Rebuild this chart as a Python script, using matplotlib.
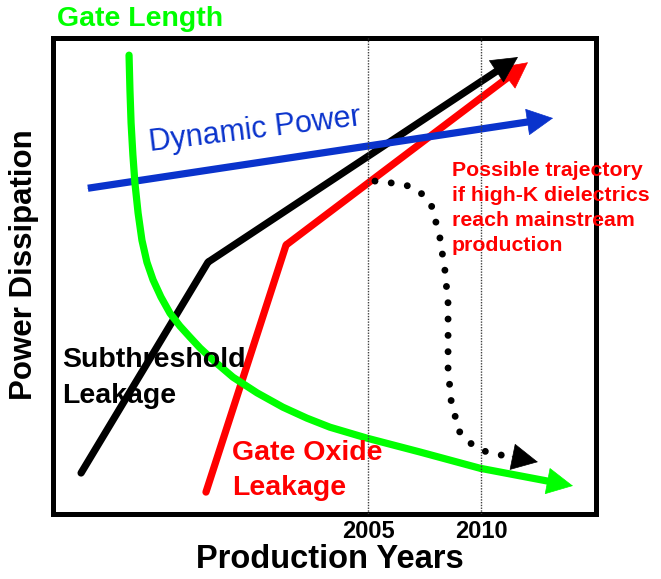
import matplotlib
matplotlib.use("Agg")
import matplotlib.pyplot as plt

# DANE: wykres pogladowy (lata produkcji vs moc), jednostki umowne 0-100
lata_znaczniki = [2005, 2010]
etykiety_lat = ["2005", "2010"]

# Subthreshold leakage (czarna)
sub_x = [1992.32, 1997.93, 2011.63]
sub_y = [8.7, 52.9, 95.9]

# Gate oxide leakage (czerwona)
ox_x = [1997.84, 2001.38, 2012.07]
ox_y = [4.7, 56.5, 94.8]

# Dynamic power (niebieska)
dyn_x = [1992.62, 2013.18]
dyn_y = [68.4, 83.1]

# Gate length (zielona)
gl_x = [1994.44, 1994.48, 1994.53, 1994.61, 1994.70, 1994.84, 1995.01, 1995.23,
        1995.50, 1995.85, 1996.25, 1996.69, 1997.13, 1997.58, 1998.24, 1999.03,
        2000.10, 2001.24, 2002.30, 2003.32, 2004.96, 2007.30, 2009.95, 2014.06]
gl_y = [96.3, 89.0, 82.1, 75.4, 69.5, 63.2, 57.5, 52.9,
        49.2, 45.6, 42.2, 39.5, 37.2, 34.9, 32.0, 28.8,
        25.5, 22.5, 20.2, 18.3, 16.0, 13.1, 9.7, 6.0]

# Mozliwa trajektoria (kropkowana)
tr_x = [2005.31, 2006.06, 2006.77, 2007.39, 2007.83, 2008.18, 2008.40, 2008.54,
        2008.54, 2008.67, 2009.02, 2009.51, 2010.13, 2010.84, 2011.37, 2012.51]
tr_y = [69.9, 69.5, 68.9, 67.2, 64.5, 58.0, 51.2, 44.3,
        30.7, 24.0, 17.5, 15.0, 13.3, 12.5, 12.1, 11.0]

ZIELONY = "#00ff00"
NIEBIESKI = "#0a33cc"
CZERWONY = "#ff0000"
LW = 5.2
GROT = "-|>,head_length=0.9,head_width=0.46"

fig = plt.figure(figsize=(6.61, 5.79), dpi=100)
ax = fig.add_axes([0.0809, 0.1114, 0.8215, 0.8238])
ax.set_xlim(1991.1, 2015.1)
ax.set_ylim(0, 100)

for s in ax.spines.values():
    s.set_linewidth(3.6)
    s.set_color("black")


def linia_ze_strzalka(xs, ys, kolor, z):
    # linia lamana do przedostatniego punktu
    ax.plot(xs[:-1], ys[:-1], color=kolor, lw=LW, zorder=z,
            solid_capstyle="round", solid_joinstyle="round")
    # gruby trzon ostatniego odcinka (skrocony pod grotem)
    ax.annotate("", xy=(xs[-1], ys[-1]), xytext=(xs[-2], ys[-2]),
                arrowprops=dict(arrowstyle="-", color=kolor, lw=LW,
                                shrinkA=0, shrinkB=12, capstyle="butt"),
                zorder=z)
    # grot
    ax.annotate("", xy=(xs[-1], ys[-1]), xytext=(xs[-2], ys[-2]),
                arrowprops=dict(arrowstyle=GROT, mutation_scale=20, color=kolor,
                                lw=0.5, shrinkA=0, shrinkB=0),
                zorder=z)


linia_ze_strzalka(ox_x, ox_y, CZERWONY, 2)
linia_ze_strzalka(sub_x, sub_y, "black", 3)
linia_ze_strzalka(dyn_x, dyn_y, NIEBIESKI, 4)
linia_ze_strzalka(gl_x, gl_y, ZIELONY, 5)

# trajektoria kropkowana
ax.plot(tr_x[:-1], tr_y[:-1], color="black", lw=5, linestyle=(0, (0.001, 2.35)),
        dash_capstyle="round", zorder=6)
ax.annotate("", xy=(tr_x[-1], tr_y[-1]), xytext=(tr_x[-2], tr_y[-2]),
            arrowprops=dict(arrowstyle=GROT, mutation_scale=20, color="black", lw=0.5,
                            shrinkA=0, shrinkB=0), zorder=6)

for rok in lata_znaczniki:
    ax.axvline(rok, color="0.25", lw=1.0, linestyle=(0, (1, 1)), zorder=7)

ax.set_xticks(lata_znaczniki)
ax.set_xticklabels(etykiety_lat)
ax.set_yticks([])
ax.tick_params(axis="x", length=0, pad=4)
for t in ax.get_xticklabels():
    t.set_family("Liberation Sans")
    t.set_fontweight("bold")
    t.set_fontsize(17)

# podpisy osi
fig.text(330 / 661, 1 - 568 / 579, "Production Years", ha="center", va="baseline",
         fontsize=23.5, fontweight="bold", family="Liberation Sans")
fig.text(24 / 661, 1 - 265 / 579, "Power Dissipation", ha="center", va="center",
         rotation=90, fontsize=22.5, fontweight="bold", family="Liberation Sans")
fig.text(57 / 661, 1 - 26 / 579, "Gate Length", ha="left", va="baseline",
         fontsize=20.5, fontweight="bold", color=ZIELONY, family="Liberation Sans")

# opisy krzywych (y = linia bazowa ostatniego wiersza)
ax.text(1995.37, 76.2, "Dynamic Power", color=NIEBIESKI, fontsize=22,
        family="Liberation Sans", rotation=7, rotation_mode="anchor",
        ha="left", va="baseline", zorder=8)
ax.text(2008.71, 55.3, "Possible trajectory\nif high-K dielectrics\nreach mainstream\nproduction",
        color=CZERWONY, fontsize=15.3, fontweight="bold", family="Liberation Sans",
        ha="left", va="baseline", linespacing=1.4, zorder=8)
ax.text(1991.48, 23.4, "Subthreshold\nLeakage", color="black", fontsize=20.5,
        fontweight="bold", family="Liberation Sans", ha="left", va="baseline",
        linespacing=1.47, zorder=8)
ax.text(1998.99, 4.1, "Gate Oxide\nLeakage", color=CZERWONY, fontsize=20.5,
        fontweight="bold", family="Liberation Sans", ha="left", va="baseline",
        linespacing=1.47, zorder=8)

plt.savefig("out.png", dpi=100)
